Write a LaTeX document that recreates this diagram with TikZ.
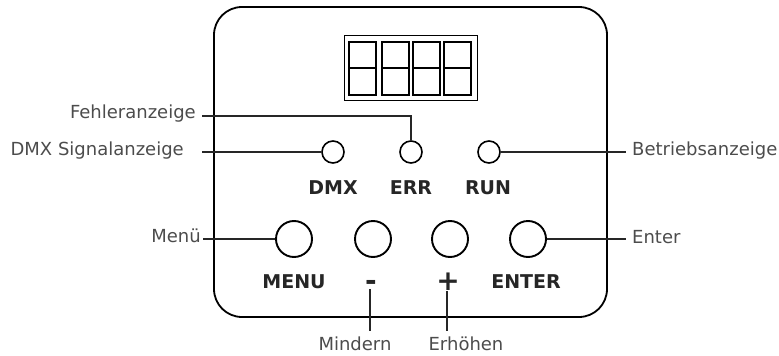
\documentclass[tikz,border=0pt]{standalone}
\usepackage{fontspec}
\newfontfamily\lblfont{DejaVu Sans}
\usetikzlibrary{positioning}

\begin{document}
\begin{tikzpicture}[x=1pt,y=-1pt,line cap=butt]
    \tikzstyle{led}=[circle,draw=black,line width=1.6pt,minimum size=22pt,inner sep=0pt]
    \tikzstyle{taster}=[circle,draw=black,line width=1.9pt,minimum size=36pt,inner sep=0pt]
    \tikzstyle{key}=[font=\lblfont\bfseries\fontsize{19}{21}\selectfont,text=black!85,inner sep=1pt]
    \tikzstyle{sign}=[font=\lblfont\bfseries\fontsize{28}{30}\selectfont,text=black!85,inner sep=0pt]
    \tikzstyle{annot}=[font=\lblfont\fontsize{18}{20}\selectfont,text=black!70,inner sep=1pt]
    \tikzstyle{lead}=[draw=black!85,line width=1.3pt]
    \tikzstyle{cell}=[draw=black,line width=1.8pt]

    \useasboundingbox (0,0) rectangle (779,356);

    % housing
    \draw[line width=1.8pt,rounded corners=28pt] (214,7) rectangle (607,317);

    % display
    \draw[line width=0.9pt] (344,35) rectangle (477,100);
    \foreach \x in {349,382,413,444}
    {
        \draw[cell] (\x,42) rectangle ++(27,53);
        \draw[cell] (\x,68) -- ++(27,0);
    }

    % LEDs
    \node[led] (L-1) at (333,152) {};
    \node[led] (L-2) at (411,152) {};
    \node[led] (L-3) at (489,152) {};
    \node[key] (K-1) at (333,188) {DMX};
    \node[key] (K-2) at (411,188) {ERR};
    \node[key] (K-3) at (488,188) {RUN};

    % buttons
    \node[taster] (T-1) at (294,239) {};
    \node[taster] (T-2) at (373,239) {};
    \node[taster] (T-3) at (450,239) {};
    \node[taster] (T-4) at (528,239) {};
    \node[key] (B-1) at (294,282) {MENU};
    \node[sign] (B-2) at (371,285) {-};
    \node[sign] (B-3) at (448,282) {+};
    \node[key] (B-4) at (526,282) {ENTER};

    % Annotate the elements
    \node[annot,anchor=east] (fehler) at (197,114) {Fehleranzeige};
    \node[annot,anchor=east] (signal) at (185,151) {DMX Signalanzeige};
    \node[annot,anchor=east] (menue) at (202,236) {Menü};
    \node[annot,anchor=west] (betrieb) at (631,151) {Betriebsanzeige};
    \node[annot,anchor=west] (enter) at (631,237) {Enter};
    \node[annot] (mindern) at (355,344) {Mindern};
    \node[annot] (erhoehen) at (466,344) {Erhöhen};

    \coordinate (c-fehler) at (202,116);
    \coordinate (c-signal) at (202,152);
    \coordinate (c-menue) at (203,239);
    \coordinate (c-betrieb) at (626,152);
    \coordinate (c-enter) at (626,239);
    \coordinate (c-mindern) at (370,331);
    \coordinate (c-erhoehen) at (447,331);

    \draw[lead] (c-fehler) -| (L-2.north);
    \draw[lead] (c-signal) -- (L-1.west);
    \draw[lead] (c-menue) -- (T-1.west);
    \draw[lead] (L-3.east) -- (c-betrieb);
    \draw[lead] (T-4.east) -- (c-enter);
    \draw[lead] (c-mindern |- 0,289) -- (c-mindern);
    \draw[lead] (c-erhoehen |- 0,291) -- (c-erhoehen);

\end{tikzpicture}
\end{document}
